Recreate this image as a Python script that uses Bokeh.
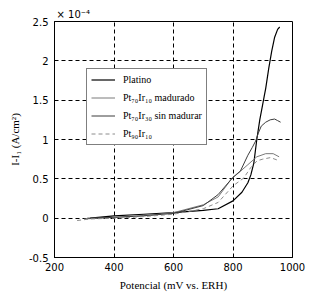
from bokeh.plotting import figure
from bokeh.models import Range1d, FixedTicker, Legend, LegendItem
from bokeh.embed import file_html
from bokeh.resources import INLINE

# Data (current in units of 1e-4 A/cm2, potential in mV vs ERH)
platino_x = [320, 400, 500, 600, 700, 750, 800, 830, 850, 860, 870, 880, 890, 900, 905, 910, 920, 930, 940, 950, 957]
platino_y = [0.0, 0.03, 0.05, 0.07, 0.1, 0.12, 0.22, 0.33, 0.45, 0.55, 0.7, 1.0, 1.25, 1.45, 1.55, 1.65, 1.9, 2.12, 2.3, 2.4, 2.43]

madurado_x = [300, 400, 500, 600, 700, 750, 795, 820, 850, 880, 910, 935, 955]
madurado_y = [-0.01, 0.01, 0.03, 0.07, 0.17, 0.27, 0.5, 0.58, 0.68, 0.78, 0.82, 0.82, 0.78]

sinmadurar_x = [310, 400, 500, 600, 700, 750, 800, 825, 850, 865, 876, 885, 895, 910, 925, 940, 950, 960]
sinmadurar_y = [0.0, 0.01, 0.03, 0.06, 0.16, 0.3, 0.52, 0.6, 0.8, 0.9, 0.98, 1.08, 1.17, 1.22, 1.25, 1.26, 1.24, 1.22]

pt90_x = [276, 320, 400, 500, 600, 700, 750, 800, 836, 859, 881, 900, 926, 948]
pt90_y = [-0.03, -0.01, 0.0, 0.02, 0.05, 0.12, 0.2, 0.41, 0.51, 0.64, 0.73, 0.75, 0.77, 0.74]

x_ticks = [200, 400, 600, 800, 1000]
y_ticks = [-0.5, 0, 0.5, 1, 1.5, 2, 2.5]
x_tick_labels = {200: "200", 400: "400", 600: "600", 800: "800", 1000: "1000"}
y_tick_labels = {-0.5: "-0.5", 0: "0", 0.5: "0.5", 1: "1", 1.5: "1.5", 2: "2", 2.5: "2.5"}

labels = ["Platino", "Pt\u2087\u2080Ir\u2081\u2080 madurado", "Pt\u2087\u2080Ir\u2083\u2080 sin madurar", "Pt\u2089\u2080Ir\u2081\u2080"]
scale_text = "\u00d7 10\u207b\u2074"

SERIF = "Liberation Serif"
SANS = "DejaVu Sans"

p = figure(width=322, height=299, output_backend="svg", toolbar_location=None,
           x_range=Range1d(200, 1000), y_range=Range1d(-0.5, 2.5),
           min_border_left=54, min_border_right=30, min_border_top=21, min_border_bottom=42,
           background_fill_color="white", border_fill_color="white")

p.title.text = scale_text
p.title.text_font = SANS
p.title.text_font_size = "10px"
p.title.text_font_style = "normal"
p.title.text_color = "black"
p.title.align = "left"
p.title.offset = 2
p.title.standoff = 3

p.outline_line_color = "black"
p.outline_line_width = 1

for ax in (p.xaxis[0], p.yaxis[0]):
    ax.axis_line_color = "black"
    ax.major_tick_in = 3
    ax.major_tick_out = 0
    ax.minor_tick_in = 0
    ax.minor_tick_out = 0
    ax.major_tick_line_color = "black"
    ax.major_label_text_font = SANS
    ax.major_label_text_font_size = "10px"
    ax.major_label_text_color = "black"
    ax.axis_label_text_font = SERIF
    ax.axis_label_text_font_size = "11px"
    ax.axis_label_text_font_style = "normal"
    ax.axis_label_text_color = "black"

p.xaxis.ticker = FixedTicker(ticks=x_ticks)
p.yaxis.ticker = FixedTicker(ticks=y_ticks)
p.xaxis.major_label_overrides = x_tick_labels
p.yaxis.major_label_overrides = y_tick_labels
p.xaxis.axis_label = "Potencial (mV vs. ERH)"
p.yaxis.axis_label = "I-I\u2081 (A/cm\u00b2)"
p.xaxis.major_label_standoff = 5
p.xaxis.axis_label_standoff = 5
p.yaxis.major_label_standoff = 6
p.yaxis.axis_label_standoff = 5

p.xgrid.grid_line_color = "black"
p.ygrid.grid_line_color = "black"
p.xgrid.grid_line_dash = "4 3"
p.ygrid.grid_line_dash = "4 3"
p.xgrid.grid_line_width = 1
p.ygrid.grid_line_width = 1

r1 = p.line(platino_x, platino_y, line_color="black", line_width=1.2)
r2 = p.line(madurado_x, madurado_y, line_color="#7a7a7a", line_width=1)
r3 = p.line(sinmadurar_x, sinmadurar_y, line_color="#3c3c3c", line_width=1)
r4 = p.line(pt90_x, pt90_y, line_color="#8c8c8c", line_width=1, line_dash="4 3")

legend = Legend(items=[LegendItem(label=labels[0], renderers=[r1]),
                       LegendItem(label=labels[1], renderers=[r2]),
                       LegendItem(label=labels[2], renderers=[r3]),
                       LegendItem(label=labels[3], renderers=[r4])],
                location=(32, 112), orientation="vertical",
                label_text_font=SERIF, label_text_font_size="10px",
                label_text_color="black",
                glyph_width=24, glyph_height=13, label_height=13,
                spacing=5, padding=4, margin=0, label_standoff=8,
                border_line_color="black", border_line_width=1,
                background_fill_color="white", background_fill_alpha=1.0)
p.add_layout(legend, "center")

open("out.html", "w").write(file_html(p, INLINE))
